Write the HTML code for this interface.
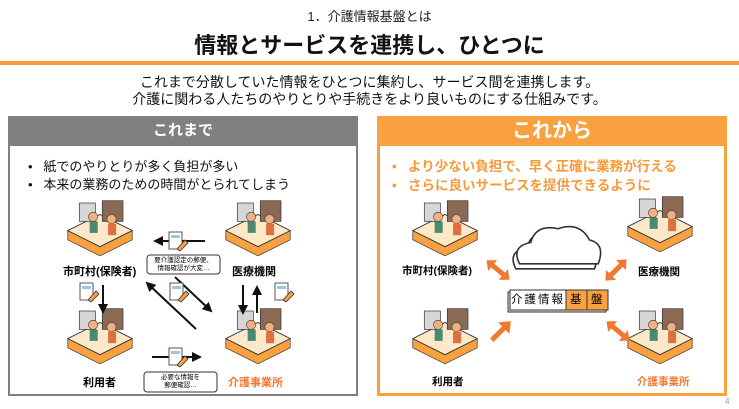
<!DOCTYPE html>
<html><head><meta charset="utf-8"><style>
body{margin:0;width:739px;height:409px;background:#fff;overflow:hidden;position:relative;font-family:"Liberation Sans","Noto Sans CJK JP",sans-serif;}
.a{position:absolute;white-space:nowrap}
</style></head><body>
<div class="a" style="left:0;width:739px;top:6px;text-align:center;font-size:13px;color:#222">1．介護情報基盤とは</div>
<div class="a" style="left:0;width:739px;top:28px;text-align:center;font-size:22px;font-weight:bold;color:#111">情報とサービスを連携し、ひとつに</div>
<div style="position:absolute;left:0;top:61px;width:739px;height:4px;background:#f79a3a"></div>
<div class="a" style="left:0;width:739px;top:74px;text-align:center;font-size:14px;line-height:17px;color:#111">これまで分散していた情報をひとつに集約し、サービス間を連携します。<br>介護に関わる人たちのやりとりや手続きをより良いものにする仕組みです。</div>

<div style="position:absolute;left:8px;top:116px;width:346px;height:276px;border:2px solid #808080"></div>
<div class="a" style="left:8px;top:116px;width:350px;height:30px;background:#808080;color:#fff;font-weight:bold;font-size:15px;line-height:30px;text-align:center">これまで</div>
<div class="a" style="left:28px;top:158px;font-size:13px;line-height:18px;color:#111">•&nbsp;&nbsp;&nbsp;紙でのやりとりが多く負担が多い<br>•&nbsp;&nbsp;&nbsp;本来の業務のための時間がとられてしまう</div>

<div style="position:absolute;left:377px;top:116px;width:344px;height:274px;border:3px solid #f9a040"></div>
<div class="a" style="left:377px;top:116px;width:350px;height:30px;background:#f9a040;color:#fff;font-weight:bold;font-size:20px;line-height:30px;text-align:center">これから</div>
<div class="a" style="left:392px;top:157px;font-size:13.5px;line-height:19px;color:#f79a3a;font-weight:bold">•&nbsp;&nbsp;&nbsp;より少ない負担で、早く正確に業務が行える<br>•&nbsp;&nbsp;&nbsp;さらに良いサービスを提供できるように</div>

<svg style="position:absolute;left:0;top:0" width="739" height="409">
<defs>
<g id="ic0">
<path d="M-28 4 L0 -10 L28 4 L28 12 L0 26 L-28 12Z" fill="#f9a040" stroke="#333" stroke-width="0.6"/>
<path d="M-28 4 L0 -10 L28 4 L0 18Z" fill="#fde9c8" stroke="#333" stroke-width="0.8"/>
<rect x="-18" y="-20" width="14" height="16" fill="#d6d6d6" stroke="#333" stroke-width="0.6"/>
<rect x="2" y="-22" width="18" height="18" fill="#8a6a55" stroke="#333" stroke-width="0.6"/>
<circle cx="-6" cy="-8" r="4" fill="#f0b080" stroke="#333" stroke-width="0.5"/>
<rect x="-9" y="-4" width="7" height="10" fill="#4a8a70"/>
<circle cx="10" cy="-6" r="4" fill="#f0b080" stroke="#333" stroke-width="0.5"/>
<rect x="7" y="-2" width="7" height="10" fill="#e07040"/>
</g>
<g id="ic"><use href="#ic0" transform="scale(1.15)"/></g>
<g id="doc"><rect x="0" y="0" width="13" height="17" fill="#fff" stroke="#555" stroke-width="1"/><rect x="2" y="3" width="9" height="3" fill="#9cc8e8"/><path d="M8 17 L16 8 L19 11 L11 19Z" fill="#f9a040" stroke="#333" stroke-width="0.8"/></g>
<path id="dbl" d="M-15 0 L-7 -7 L-7 -2.5 L7 -2.5 L7 -7 L15 0 L7 7 L7 2.5 L-7 2.5 L-7 7Z" fill="#f07830"/>
<path id="sgl" d="M-13 -2.5 L4 -2.5 L4 -8 L14 0 L4 8 L4 2.5 L-13 2.5Z" fill="#f07830"/>
<marker id="ah" viewBox="0 0 10 10" refX="8" refY="5" markerWidth="5" markerHeight="5" orient="auto"><path d="M0 0L10 5L0 10Z" fill="#111"/></marker>
</defs>
<use href="#ic" x="100" y="226"/><use href="#ic" x="258" y="226"/><use href="#ic" x="100" y="334"/><use href="#ic" x="258" y="334"/>
<use href="#ic" x="445" y="226"/><use href="#ic" x="660" y="222"/><use href="#ic" x="445" y="334"/><use href="#ic" x="660" y="334"/>
<g stroke="#111" stroke-width="2" marker-end="url(#ah)">
<line x1="205" y1="241" x2="155" y2="241"/>
<line x1="103" y1="285" x2="103" y2="312"/>
<line x1="196" y1="329" x2="147" y2="283"/>
<line x1="175" y1="277" x2="211" y2="311"/>
<line x1="243" y1="285" x2="243" y2="313"/>
<line x1="257" y1="313" x2="257" y2="287"/>
<line x1="152" y1="357" x2="200" y2="357"/>
</g>
<use href="#doc" x="169" y="232"/><use href="#doc" x="80" y="283"/><use href="#doc" x="170" y="283"/><use href="#doc" x="275" y="283"/><use href="#doc" x="169" y="348"/>
<rect x="147" y="255" width="73" height="19" rx="3" fill="#fff" stroke="#333"/>
<rect x="144" y="372" width="73" height="20" rx="3" fill="#fff" stroke="#333"/>
<use href="#dbl" transform="translate(498,270) rotate(40)"/>
<use href="#dbl" transform="translate(616,270) rotate(-45)"/>
<use href="#sgl" transform="translate(501,331) rotate(-45)"/>
<use href="#dbl" transform="translate(618,331) rotate(40)"/>
<g transform="translate(557,255) scale(1.25) translate(-557,-255)">
<path d="M527 262 Q520 248 536 245 Q540 230 558 234 Q575 228 583 243 Q596 246 590 262Z" fill="#fff" stroke="#333" stroke-width="1.3" transform="translate(-3,4)"/>
<path d="M527 262 Q520 248 536 245 Q540 230 558 234 Q575 228 583 243 Q596 246 590 262Z" fill="#fff" stroke="#333" stroke-width="1.3"/>
</g>
<rect x="508" y="292" width="98" height="20" fill="#f6e2c0" stroke="#333"/>
<rect x="510" y="290" width="98" height="20" fill="#fff" stroke="#333"/>
<rect x="566" y="290" width="21" height="20" fill="#f9a040" stroke="#333"/>
<rect x="587" y="290" width="21" height="20" fill="#f9a040" stroke="#333"/>
</svg>
<div class="a" style="left:147px;top:257px;width:73px;text-align:center;font-size:6.5px;line-height:8px">要介護認定の郵便、<br>情報確認が大変…</div>
<div class="a" style="left:144px;top:374px;width:73px;text-align:center;font-size:6.5px;line-height:8px">必要な情報を<br>郵便確認…</div>
<div class="a" style="left:511px;top:292px;font-size:11.5px;line-height:16px;letter-spacing:2px">介護情報</div>
<div class="a" style="left:570px;top:292px;font-size:11.5px;line-height:16px">基</div>
<div class="a" style="left:591px;top:292px;font-size:11.5px;line-height:16px">盤</div>
<div class="a" style="left:63px;top:263px;font-size:11px;font-weight:bold">市町村(保険者)</div>
<div class="a" style="left:232px;top:263px;font-size:11px;font-weight:bold">医療機関</div>
<div class="a" style="left:83px;top:374px;font-size:11px;font-weight:bold">利用者</div>
<div class="a" style="left:228px;top:374px;font-size:11px;font-weight:bold;color:#f07830">介護事業所</div>
<div class="a" style="left:402px;top:263px;font-size:10.5px;font-weight:bold">市町村(保険者)</div>
<div class="a" style="left:638px;top:264px;font-size:10.5px;font-weight:bold">医療機関</div>
<div class="a" style="left:432px;top:374px;font-size:10.5px;font-weight:bold">利用者</div>
<div class="a" style="left:637px;top:374px;font-size:10.5px;font-weight:bold;color:#f07830">介護事業所</div>
<div class="a" style="left:725px;top:397px;font-size:8px;color:#999">4</div>
</body></html>
